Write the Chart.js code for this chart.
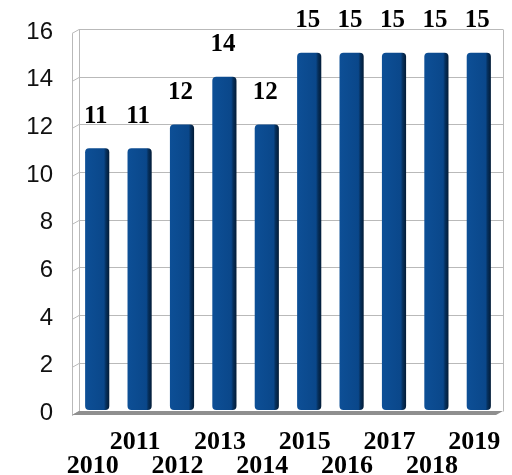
<!DOCTYPE html>
<html>
<head>
<meta charset="utf-8">
<script src="https://cdn.jsdelivr.net/npm/chart.js@4"></script>
<style>
  html, body { margin: 0; padding: 0; background: #fff; }
  #wrap { width: 512px; height: 475px; position: relative; }
</style>
</head>
<body>
<div id="wrap"><canvas id="chart"></canvas></div>
<script>
// values
const years = ['2010', '2011', '2012', '2013', '2014', '2015', '2016', '2017', '2018', '2019'];
const counts = [11, 11, 12, 14, 12, 15, 15, 15, 15, 15];
const yMin = 0;
const yMax = 16;
const yStep = 2;

// odd years sit on the upper row, even years on the lower one
const staggered = years.map((y, i) => (i % 2 === 0 ? ['', y] : [y, '']));

const barFace = '#0b4a8e';

// gradient across each bar to fake the 3d side
const barFill = (c) => {
    const chart = c.chart;
    const xs = chart.scales && chart.scales.x;
    if (!xs || !chart.chartArea) return barFace;
    const cx = xs.getPixelForValue(c.dataIndex);
    const w = (xs.width / years.length) * 0.57;
    const g = chart.ctx.createLinearGradient(cx - w / 2, 0, cx + w / 2, 0);
    g.addColorStop(0, '#0d4f96');
    g.addColorStop(0.78, '#0a478a');
    g.addColorStop(0.86, '#06305d');
    g.addColorStop(1, '#021b36');
    return g;
};

// back wall, left wall and floor
const walls = {
    id: 'walls',
    beforeDatasetsDraw(chart) {
        const {ctx, chartArea: a, scales: {y}} = chart;
        const dx = 3, fx = 4, dy = 4;
        ctx.save();
        ctx.strokeStyle = '#b9b9b9';
        ctx.lineWidth = 1;
        for (let v = yMin; v <= yMax; v += yStep) {
            const py = Math.round(y.getPixelForValue(v)) + 0.5;
            ctx.beginPath();
            ctx.moveTo(a.left - fx, py + dy);
            ctx.lineTo(a.left + dx, py);
            if (v > yMin) ctx.lineTo(a.right + dx, py);
            ctx.stroke();
        }
        const top = Math.round(y.getPixelForValue(yMax)) + 0.5;
        const bot = Math.round(y.getPixelForValue(yMin)) + 0.5;
        ctx.beginPath();
        ctx.moveTo(a.left - fx + 0.5, top + dy);
        ctx.lineTo(a.left - fx + 0.5, bot + dy);
        ctx.moveTo(a.left + dx + 0.5, top);
        ctx.lineTo(a.left + dx + 0.5, bot);
        ctx.moveTo(a.right + dx + 0.5, top);
        ctx.lineTo(a.right + dx + 0.5, bot);
        ctx.stroke();
        // floor
        ctx.fillStyle = '#8f8f8f';
        ctx.beginPath();
        ctx.moveTo(a.left + dx, bot - 0.5);
        ctx.lineTo(a.right + dx, bot - 0.5);
        ctx.lineTo(a.right - fx, bot + dy - 0.5);
        ctx.lineTo(a.left - fx, bot + dy - 0.5);
        ctx.closePath();
        ctx.fill();
        ctx.restore();
    }
};

// value labels above the bars
const valueLabels = {
    id: 'valueLabels',
    afterDatasetsDraw(chart) {
        const {ctx} = chart;
        const meta = chart.getDatasetMeta(0);
        ctx.save();
        ctx.font = 'bold 25px "Liberation Serif", "Times New Roman", serif';
        ctx.fillStyle = '#000';
        ctx.textAlign = 'center';
        ctx.textBaseline = 'alphabetic';
        meta.data.forEach((bar, i) => {
            ctx.fillText(String(counts[i]), bar.x - 1.5, bar.y - 25.5);
        });
        ctx.restore();
    }
};

new Chart(document.getElementById('chart'), {
    type: 'bar',
    data: {
        labels: staggered,
        datasets: [{
            data: counts,
            backgroundColor: barFill,
            borderWidth: 0,
            borderRadius: 4,
            borderSkipped: false,
            categoryPercentage: 1,
            barPercentage: 0.57
        }]
    },
    options: {
        responsive: true,
        maintainAspectRatio: false,
        animation: false,
        layout: {padding: {top: 29, right: 12, bottom: 0, left: 0}},
        plugins: {
            legend: {display: false},
            tooltip: {enabled: false}
        },
        scales: {
            x: {
                // transparent tick marks give the label gap without widening the padding
                grid: {display: true, drawOnChartArea: false, drawTicks: true, tickLength: 20, color: 'rgba(0,0,0,0)'},
                border: {display: false},
                ticks: {
                    autoSkip: false,
                    maxRotation: 0,
                    padding: 0,
                    labelOffset: -4.5,
                    color: '#000',
                    font: {family: '"Liberation Serif", "Times New Roman", serif', size: 26, weight: 'bold', lineHeight: 0.93}
                },
                afterFit: (s) => { s.height = 64.5; }
            },
            y: {
                min: yMin,
                max: yMax,
                grid: {display: true, drawOnChartArea: false, drawTicks: true, tickLength: 23, color: 'rgba(0,0,0,0)'},
                border: {display: false},
                ticks: {
                    stepSize: yStep,
                    padding: 0,
                    labelOffset: 3,
                    color: '#111',
                    font: {family: '"Liberation Sans", Arial, sans-serif', size: 24}
                },
                afterFit: (s) => { s.width = 76; }
            }
        }
    },
    plugins: [walls, valueLabels]
});
</script>
</body>
</html>
